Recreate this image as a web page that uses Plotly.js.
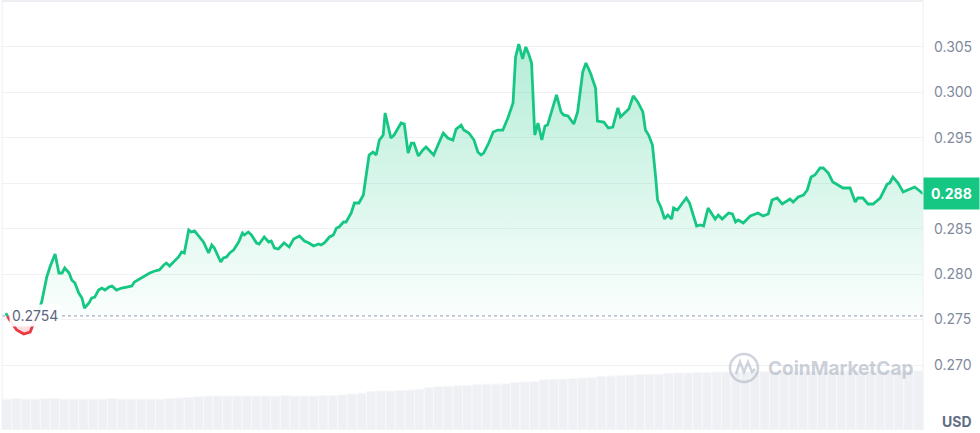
<!DOCTYPE html>
<html>
<head>
<meta charset="utf-8">
<script src="https://cdn.plot.ly/plotly-3.0.1.min.js"></script>
<style>html,body{margin:0;padding:0;background:#fff;}#chart{width:980px;height:433px;}</style>
</head>
<body>
<div id="chart"></div>
<script>
// minutes since start of the 24h window
var times = [6,12,23,34,44,51,56,62,70,75,83,89,94,98,105,109,114,120,125,129,136,140,145,151,156,161,167,172,179,187,195,203,207,215,223,231,239,246,253,257,262,268,276,281,285,292,296,301,309,315,323,328,332,339,342,346,351,356,362,370,376,379,385,390,398,402,410,417,421,426,432,441,449,456,465,473,480,487,495,499,504,512,518,523,527,534,538,546,551,558,565,569,574,580,585,590,596,599,604,608,613,619,624,629,635,640,644,651,658,663,668,675,683,690,697,705,710,718,722,730,738,744,749,753,761,768,775,783,791,799,803,808,814,819,824,828,833,838,844,849,853,861,867,874,878,885,894,900,908,913,920,928,931,941,948,955,963,967,975,980,987,994,1002,1006,1011,1017,1022,1025,1030,1036,1041,1047,1050,1056,1064,1070,1075,1086,1092,1097,1104,1115,1120,1126,1136,1142,1147,1151,1159,1170,1182,1190,1198,1204,1212,1220,1232,1237,1245,1253,1259,1265,1271,1279,1284,1292,1299,1307,1315,1326,1334,1338,1346,1354,1362,1373,1384,1388,1393,1401,1409,1416,1427,1435,1440];

var prices = [0.27572,0.27495,0.27385,0.27341,0.27363,0.27473,0.27583,0.27693,0.27969,0.28079,0.28222,0.28013,0.28013,0.28068,0.28013,0.27936,0.27903,0.27792,0.27737,0.27627,0.27682,0.27737,0.27748,0.27825,0.27847,0.27825,0.27858,0.2787,0.27825,0.27847,0.27858,0.2787,0.27913,0.27947,0.2798,0.28013,0.28035,0.28046,0.28101,0.28123,0.2809,0.28134,0.28189,0.28244,0.28233,0.28486,0.28464,0.28475,0.28409,0.28354,0.28233,0.28321,0.28288,0.28178,0.28134,0.28178,0.28189,0.28233,0.28266,0.28354,0.28453,0.28431,0.28464,0.28431,0.28343,0.28332,0.28409,0.28354,0.28365,0.28288,0.28277,0.28343,0.28299,0.28387,0.2842,0.28365,0.28343,0.2831,0.28332,0.28321,0.28343,0.28409,0.28431,0.28508,0.28519,0.28574,0.28574,0.28673,0.28783,0.28783,0.28871,0.29069,0.29311,0.29344,0.29311,0.29476,0.29531,0.29774,0.29608,0.29498,0.29531,0.29608,0.29663,0.29652,0.29333,0.29443,0.29443,0.293,0.29366,0.29399,0.29366,0.29311,0.29443,0.29553,0.29498,0.29476,0.29597,0.29641,0.29586,0.29553,0.29476,0.29344,0.29311,0.29333,0.29443,0.29564,0.29586,0.29586,0.29718,0.29884,0.3039,0.30533,0.30368,0.305,0.30412,0.30324,0.29531,0.29663,0.29476,0.2963,0.29641,0.29829,0.29972,0.29785,0.29752,0.29741,0.29652,0.29785,0.30225,0.30324,0.30214,0.30049,0.29685,0.29674,0.29608,0.29619,0.29829,0.2973,0.29785,0.29818,0.29961,0.29895,0.29785,0.29586,0.29531,0.29421,0.29069,0.28816,0.28739,0.28607,0.28651,0.28607,0.28728,0.28706,0.28783,0.28838,0.28783,0.2853,0.28541,0.2853,0.28728,0.28607,0.28651,0.28607,0.28673,0.28662,0.28574,0.28596,0.28563,0.2864,0.28673,0.2864,0.28662,0.28816,0.28838,0.28772,0.28827,0.28794,0.28849,0.28871,0.28926,0.29069,0.29091,0.29168,0.29168,0.29113,0.29014,0.28981,0.28948,0.28948,0.28794,0.28838,0.28838,0.28772,0.28772,0.28838,0.28992,0.29003,0.29069,0.29003,0.28904,0.28926,0.28959,0.28915,0.28885];

var baseline = 0.2754;
var baselineLabel = "0.2754";

// volume per 15-minute bucket (relative units)
var volumes = [7.2,7.3,7.2,7.2,7.3,7.4,7.2,7.2,7.2,7.2,7.2,7.3,7.2,7.2,7.2,7.2,7.2,7.3,
  7.5,7.6,
  7.8,7.9,7.9,7.9,7.9,7.9,7.9,7.9,7.9,8.0,7.9,7.9,7.9,8.0,8.0,
  8.2,8.4,8.6,
  9.0,9.1,9.1,9.2,9.3,9.5,
  9.9,10.1,10.2,10.3,10.4,
  10.6,10.7,10.7,10.8,
  11.1,11.2,11.3,
  11.7,11.8,11.9,12.0,12.1,12.2,
  12.5,12.6,12.7,12.8,12.9,13.0,13.0,
  13.2,13.3,13.3,13.4,13.4,13.5,13.5,13.5,
  13.6,13.6,13.6,13.7,13.7,13.7,13.7,13.7,13.7,13.7,13.7,13.8,13.8,13.8,13.8,13.8,13.8,13.8,13.8];

// 0.290 label is hidden behind the current-price tag in the reference
var yTickVals = [0.270,0.275,0.280,0.285,0.290,0.295,0.300,0.305];
var yTickText = ["0.270","0.275","0.280","0.285","","0.295","0.300","0.305"];

var GREEN = '#16c784', RED = '#ea3943';

// split series at baseline crossings for colouring
var n = Math.min(times.length, prices.length);
var ax = [], ay = [];
for (var i = 0; i < n; i++) {
  if (i > 0) {
    var p0 = prices[i-1], p1 = prices[i];
    if ((p0 - baseline) * (p1 - baseline) < 0) {
      var t = (baseline - p0) / (p1 - p0);
      ax.push(times[i-1] + t * (times[i] - times[i-1]));
      ay.push(baseline);
    }
  }
  ax.push(times[i]); ay.push(prices[i]);
}
var upLine = ay.map(function(v){ return v >= baseline ? v : null; });
var dnLine = ay.map(function(v){ return v <= baseline ? v : null; });
var upFill = ay.map(function(v){ return Math.max(v, baseline); });
var dnFill = ay.map(function(v){ return Math.min(v, baseline); });
var baseArr = ay.map(function(){ return baseline; });

var volTimes = volumes.map(function(_, k){ return k * 15 + 7.5; });

var traces = [
  {x: ax, y: baseArr, type: 'scatter', mode: 'lines', line: {width: 0}, hoverinfo: 'skip', showlegend: false},
  {x: ax, y: upFill, type: 'scatter', mode: 'lines', line: {width: 0}, fill: 'tonexty',
   fillgradient: {type: 'vertical', colorscale: [[0, 'rgba(22,199,132,0.02)'], [1, 'rgba(22,199,132,0.32)']]},
   hoverinfo: 'skip', showlegend: false},
  {x: ax, y: baseArr, type: 'scatter', mode: 'lines', line: {width: 0}, hoverinfo: 'skip', showlegend: false},
  {x: ax, y: dnFill, type: 'scatter', mode: 'lines', line: {width: 0}, fill: 'tonexty',
   fillgradient: {type: 'vertical', colorscale: [[0, 'rgba(234,57,67,0.22)'], [1, 'rgba(234,57,67,0.03)']]},
   hoverinfo: 'skip', showlegend: false},
  {x: ax, y: upLine, type: 'scatter', mode: 'lines', line: {color: GREEN, width: 2.8}, connectgaps: false, showlegend: false},
  {x: ax, y: dnLine, type: 'scatter', mode: 'lines', line: {color: RED, width: 2.8}, connectgaps: false, showlegend: false},
  {x: volTimes, y: volumes, type: 'bar', yaxis: 'y2', marker: {color: '#eef0f4', line: {color: '#f7f8fa', width: 1}}, hoverinfo: 'skip', showlegend: false}
];

var last = prices[n-1];
var lastLabel = (Math.floor(last * 1000) / 1000).toFixed(3);

function px2paperX(p){ return (p - 2) / 921; }
function px2paperY(p){ return (430 - p) / 429; }

var logoPath = 'M ' + px2paperX(736) + ' ' + px2paperY(374) +
  ' L ' + px2paperX(740) + ' ' + px2paperY(362) +
  ' L ' + px2paperX(744) + ' ' + px2paperY(372) +
  ' L ' + px2paperX(748) + ' ' + px2paperY(362) +
  ' L ' + px2paperX(752) + ' ' + px2paperY(372) +
  ' L ' + px2paperX(755) + ' ' + px2paperY(369);

var layout = {
  width: 980, height: 433,
  margin: {l: 2, r: 57, t: 1, b: 3},
  paper_bgcolor: '#ffffff', plot_bgcolor: '#ffffff',
  bargap: 0,
  xaxis: {range: [0, 1440], showgrid: false, zeroline: false, showticklabels: false, showline: false, ticks: '', fixedrange: true},
  yaxis: {side: 'right', range: [0.26285, 0.31006], tickvals: yTickVals, ticktext: yTickText,
    gridcolor: '#eff1f4', gridwidth: 1, zeroline: false, showline: false, ticks: '',
    ticklabelstandoff: 10,
    tickfont: {family: 'Inter, Roboto, sans-serif', size: 14, color: '#808a9d'}},
  yaxis2: {overlaying: 'y', range: [0, 100], visible: false, fixedrange: true},
  shapes: [
    {type: 'line', xref: 'paper', yref: 'y', x0: 0, x1: 1, y0: baseline, y1: baseline, line: {color: '#a7b0c0', width: 1.2, dash: 'dot'}},
    {type: 'line', xref: 'paper', yref: 'paper', x0: 0, x1: 1, y0: 1, y1: 1, line: {color: '#e6e8ec', width: 1.5}},
    {type: 'line', xref: 'paper', yref: 'paper', x0: 0, x1: 0, y0: 0, y1: 1, line: {color: '#eceef1', width: 1}},
    {type: 'line', xref: 'paper', yref: 'paper', x0: 1, x1: 1, y0: 0, y1: 1, line: {color: '#eceef1', width: 1}},
    {type: 'circle', xref: 'paper', yref: 'paper', x0: px2paperX(730), x1: px2paperX(758), y0: px2paperY(382), y1: px2paperY(354), line: {color: 'rgba(170,177,192,0.55)', width: 2.5}},
    {type: 'path', xref: 'paper', yref: 'paper', path: logoPath, line: {color: 'rgba(170,177,192,0.55)', width: 2.5}}
  ],
  annotations: [
    {xref: 'paper', yref: 'y', x: 1, y: last, xanchor: 'left', yanchor: 'middle', showarrow: false,
     text: '<b>' + lastLabel + '</b>', bgcolor: GREEN, borderpad: 7,
     font: {family: 'Inter, Roboto, sans-serif', size: 14, color: '#ffffff'}},
    {xref: 'paper', yref: 'y', x: 0, y: baseline, xanchor: 'left', yanchor: 'middle', xshift: 7, showarrow: false,
     text: baselineLabel, bgcolor: 'rgba(255,255,255,0.92)', borderpad: 2,
     font: {family: 'Inter, Roboto, sans-serif', size: 14, color: '#58667e'}},
    {xref: 'paper', yref: 'paper', x: 1, y: px2paperY(421), xanchor: 'left', yanchor: 'middle', xshift: 17, showarrow: false,
     text: '<b>USD</b>', font: {family: 'Inter, Roboto, sans-serif', size: 14, color: '#616e85'}},
    {xref: 'paper', yref: 'paper', x: px2paperX(766), y: px2paperY(368), xanchor: 'left', yanchor: 'middle', showarrow: false,
     text: '<b>CoinMarketCap</b>', font: {family: 'Inter, Roboto, sans-serif', size: 19, color: 'rgba(170,177,192,0.6)'}}
  ]
};

Plotly.newPlot('chart', traces, layout, {displayModeBar: false, staticPlot: true});
</script>
</body>
</html>
